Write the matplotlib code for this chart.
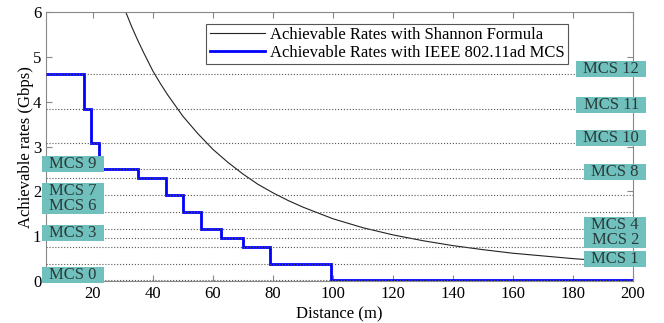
import matplotlib
matplotlib.use('Agg')
import matplotlib.pyplot as plt
from matplotlib.path import Path

plt.rcParams['font.family'] = ['Liberation Serif', 'DejaVu Serif']
plt.rcParams['font.size'] = 12

# 802.11ad MCS rates (Gbps), MCS 5 not drawn
mcs_ids = [0, 1, 2, 3, 4, 6, 7, 8, 9, 10, 11, 12]
mcs_rates = [0.0275, 0.385, 0.77, 0.9625, 1.155, 1.54, 1.925, 2.31, 2.5025, 3.08, 3.85, 4.62]

# achievable MCS rate vs distance (step switch points, m)
step_edges = [4.4, 17.2, 19.3, 21.9, 35.1, 44.3, 49.9, 55.9, 62.7, 70.1, 79.0, 99.4, 200.0]
step_rates = [4.62, 3.85, 3.08, 2.5025, 2.31, 1.925, 1.54, 1.155, 0.9625, 0.77, 0.385, 0.0275]

# Shannon curve
sh_dist = [30, 31, 33, 35, 37, 40, 42.5, 45, 50, 55, 60, 65, 70, 75, 80, 85, 90, 95, 100,
           110, 120, 130, 140, 150, 160, 170, 180, 190, 200]
sh_rate = [6.18, 6.0, 5.67, 5.37, 5.09, 4.69, 4.41, 4.15, 3.68, 3.29, 2.94, 2.65, 2.39, 2.16,
           1.97, 1.80, 1.65, 1.52, 1.39, 1.19, 1.03, 0.90, 0.79, 0.70, 0.62, 0.56, 0.50, 0.45, 0.41]

left_labels = ['MCS 9', 'MCS 7\nMCS 6', 'MCS 3', 'MCS 0']
left_y = [2.61, 1.84, 1.08, 0.13]
right_labels = ['MCS 12', 'MCS 11', 'MCS 10', 'MCS 8', 'MCS 4\nMCS 2', 'MCS 1']
right_y = [4.73, 3.94, 3.19, 2.43, 1.08, 0.49]


def wide_box(x0, y0, width, height, mutation_size):
    px = 0.45 * mutation_size
    return Path([(x0 - px, y0), (x0 + width + px, y0),
                 (x0 + width + px, y0 + height), (x0 - px, y0 + height),
                 (x0 - px, y0)], closed=True)


fig = plt.figure(figsize=(6.64, 3.23), dpi=100)
ax = fig.add_axes([0.0693, 0.130, 0.884, 0.832])

ax.plot(sh_dist, sh_rate, color='#222222', lw=0.8,
        label='Achievable Rates with Shannon Formula', zorder=2)
ax.stairs(step_rates, step_edges, baseline=None, color='#0000ff', lw=2.0,
          label='Achievable Rates with IEEE 802.11ad MCS', zorder=3)

for r in mcs_rates:
    ax.axhline(r, color='#555555', ls=':', lw=0.8, zorder=4)

box = dict(boxstyle=wide_box, facecolor='#70c1bd', edgecolor='none')
for lab, y in zip(left_labels, left_y):
    ax.text(5.5, y, lab, ha='left', va='center', color='#2a3a3a', linespacing=0.95,
            bbox=box, clip_on=False, zorder=10)
for lab, y in zip(right_labels, right_y):
    ax.text(202.0, y, lab, ha='right', va='center', color='#2a3a3a', linespacing=0.95,
            bbox=box, clip_on=False, zorder=10)

ax.set_xlim(4.4, 200)
ax.set_ylim(0, 6)
ax.set_xticks(range(20, 201, 20))
ax.set_yticks(range(0, 7))
ax.tick_params(direction='in', top=True, right=True, length=4, color='#888888')
for s in ax.spines.values():
    s.set_color('#888888')
    s.set_linewidth(0.8)

ax.set_xlabel('Distance (m)', labelpad=3)
ax.set_ylabel('Achievable rates (Gbps)', labelpad=-1)

leg = ax.legend(loc='upper right', bbox_to_anchor=(0.855, 0.926), bbox_transform=fig.transFigure,
                fancybox=False, edgecolor='#555555', framealpha=1, borderpad=0.2,
                labelspacing=0.1, handlelength=3.3, handletextpad=0.3, borderaxespad=0)
leg.get_frame().set_linewidth(0.8)
leg.set_zorder(12)

fig.savefig('out.png', dpi=100)
